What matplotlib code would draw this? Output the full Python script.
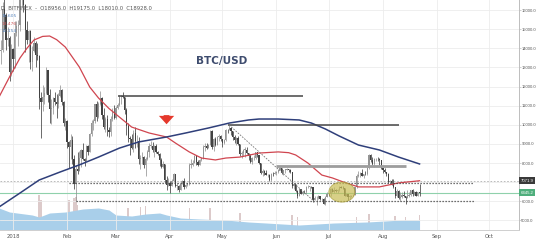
import matplotlib
matplotlib.use("Agg")
import matplotlib.pyplot as plt
import matplotlib.dates as mdates
from matplotlib.patches import Ellipse
from matplotlib.transforms import blended_transform_factory
import numpy as np
import pandas as pd

# ---------------- data (BTC/USD daily, Bitfinex) ----------------
first_day = "2017-12-24"
opens = [
    13950, 13850, 13900, 16050, 15750, 14450, 14550, 12750,
    13950, 13450, 14800, 15150, 15200, 16950, 17100, 16250, 14950, 14450, 14900, 13300, 13850, 14250, 13650, 13600,
    11400, 11200, 11450, 11650, 12850, 11550, 10800, 10900, 11400, 11200, 11100, 11500, 11800, 11200, 10100,
    10200, 9100, 8850, 9200, 8200, 6900, 7700, 7600, 8250, 8700, 8200, 8100, 8900, 8550, 9500, 10100, 10200, 11100,
    10400, 11100, 11400, 10500, 9900, 10300, 9700, 9600, 10300, 10650,
    10350, 10900, 11050, 11450, 11500, 11450, 10750, 9950, 9300, 9250, 8800, 9550, 9150, 9150, 8200, 8250, 8300,
    7900, 8200, 8600, 8900, 8900, 8700, 8900, 8550, 8450, 8150, 7800, 7950, 7100, 6850,
    6950, 6800, 7050, 7450, 6800, 6800, 6600, 6900, 7050, 6750, 6850, 6950, 7900, 7900, 8000, 8350, 8050, 7900,
    8150, 8250, 8850, 8900, 8800, 8950, 9650, 8850, 9250, 8950, 9350, 9400,
    9250, 9050, 9200, 9750, 9700, 9850, 9650, 9350, 9200, 9300, 9000, 8450, 8500, 8700, 8700, 8500, 8350, 8050,
    8250, 8250, 8550, 8400, 7980, 7500, 7580, 7460, 7350, 7350, 7100, 7450, 7400,
    7500, 7530, 7640, 7720, 7500, 7640, 7660, 7690, 7620, 7540, 6780, 6880, 6550, 6300, 6640, 6400, 6500, 6460,
    6720, 6750, 6770, 6730, 6080, 6170, 6170, 6250, 6100, 6130, 5880, 6200,
    6390, 6360, 6620, 6510, 6590, 6540, 6600, 6750, 6710, 6670, 6300, 6380, 6230, 6240, 6270, 6350, 6720, 7320,
    7380, 7470, 7340, 7410, 7400, 7720, 8400, 8170, 7930, 8190, 8230, 8210, 8180,
    7730, 7610, 7540, 7420, 7010, 7040, 6940, 6720, 6280, 6540, 6150, 6240, 6320, 6260, 6190, 6270, 6320, 6580,
    6400, 6500, 6260, 6480,
]
highs = [
    14100, 14450, 16400, 16800, 15850, 15100, 14650, 14200,
    14000, 15400, 15450, 15500, 17150, 17250, 17150, 16300, 15450, 14950, 14950, 14100, 14600, 14400, 14300, 13650,
    11700, 12100, 12000, 13000, 12850, 11850, 11350, 11450, 11700, 11600, 11650, 12100, 11850, 11250, 10350,
    10250, 9150, 9500, 9400, 8400, 7900, 8550, 8650, 8750, 9050, 8250, 8950, 8950, 9550, 10250, 10300, 11100,
    11250, 11200, 11750, 11450, 10900, 10400, 10500, 9900, 10450, 10850, 11050,
    11000, 11150, 11550, 11550, 11700, 11450, 10900, 10100, 9400, 9500, 9750, 9900, 9450, 9350, 8400, 8600, 8350,
    8300, 8700, 9050, 9150, 9100, 8950, 9000, 8650, 8500, 8250, 8100, 7950, 7300, 7200,
    7050, 7150, 7500, 7450, 6950, 6850, 7050, 7100, 7200, 6900, 6950, 8000, 8200, 8150, 8400, 8400, 8150, 8200,
    8300, 8950, 9050, 9050, 9000, 9750, 9750, 9300, 9350, 9400, 9500, 9450,
    9250, 9250, 9800, 9800, 9990, 9900, 9650, 9450, 9350, 9400, 9000, 8650, 8750, 8850, 8850, 8500, 8450, 8300,
    8400, 8600, 8550, 8400, 8000, 7700, 7650, 7650, 7400, 7450, 7500, 7550, 7600,
    7600, 7700, 7780, 7750, 7650, 7700, 7750, 7700, 7690, 7540, 6950, 6900, 6600, 6700, 6650, 6550, 6580, 6800,
    6830, 6820, 6800, 6740, 6250, 6250, 6350, 6290, 6180, 6170, 6280, 6480,
    6420, 6680, 6690, 6750, 6660, 6640, 6800, 6780, 6800, 6680, 6400, 6390, 6330, 6310, 6400, 6740, 7450, 7580,
    7540, 7680, 7450, 7560, 7780, 8480, 8470, 8300, 8270, 8240, 8290, 8270, 8180,
    7760, 7720, 7540, 7480, 7090, 7150, 7150, 6730, 6620, 6580, 6480, 6470, 6530, 6270, 6600, 6480, 6600, 6620,
    6540, 6540, 6500, 6900,
]
lows = [
    12450, 13200, 13800, 14950, 13900, 14100, 12300, 12550,
    12800, 12950, 14650, 14100, 14900, 16200, 15900, 13800, 14200, 13300, 12900, 12800, 13800, 13000, 13400, 10800,
    9300, 10700, 11100, 11600, 11200, 10100, 10050, 10550, 11050, 10350, 10900, 11450, 11050, 9950, 9750,
    8800, 7750, 8200, 7950, 6650, 6000, 7450, 7600, 7800, 8150, 7850, 8100, 8400, 8550, 9400, 9750, 10100,
    10200, 10350, 11050, 10300, 9800, 9600, 9400, 9350, 9400, 10200, 10300,
    10300, 10800, 11000, 11100, 11400, 10550, 9450, 9100, 8400, 8750, 8550, 8800, 8850, 7950, 7700, 7950, 7750,
    7300, 8150, 8300, 8800, 8550, 8300, 8500, 8400, 7850, 7750, 7750, 6950, 6600, 6800,
    6450, 6800, 7000, 6750, 6600, 6500, 6600, 6900, 6650, 6700, 6800, 6850, 7750, 7850, 8000, 7900, 7850, 7900,
    8100, 8200, 8650, 8750, 8800, 8950, 8750, 8650, 8900, 8950, 9150, 9150,
    8850, 9000, 9150, 9550, 9700, 9450, 9200, 9050, 8950, 8950, 8350, 8250, 8350, 8300, 8450, 8150, 8000, 7950,
    8150, 8200, 8300, 7950, 7450, 7300, 7350, 7350, 7250, 7050, 7050, 7300, 7400,
    7360, 7460, 7620, 7450, 7370, 7500, 7650, 7550, 7500, 6700, 6650, 6500, 6150, 6280, 6380, 6350, 6450, 6400,
    6700, 6550, 6700, 5950, 6050, 5780, 6100, 6050, 6020, 5860, 5800, 6200,
    6300, 6300, 6480, 6450, 6460, 6450, 6550, 6690, 6640, 6280, 6300, 6080, 6130, 6210, 6260, 6340, 6680, 7260,
    7290, 7300, 7240, 7390, 7390, 7700, 8060, 7880, 7800, 8080, 8120, 7880, 7680,
    7460, 7490, 7300, 6960, 6880, 6850, 6690, 6150, 6200, 6100, 6030, 6180, 6200, 5880, 6180, 6230, 6300, 6300,
    6310, 6260, 6250, 6300,
]
closes = [
    13850, 13900, 16050, 15750, 14450, 14550, 12750, 13950,
    13450, 14800, 15150, 15200, 16950, 17100, 16250, 14950, 14450, 14900, 13300, 13850, 14250, 13650, 13600, 11400,
    11200, 11450, 11650, 12850, 11550, 10800, 10900, 11400, 11200, 11100, 11500, 11800, 11200, 10100, 10200,
    9100, 8850, 9200, 8200, 6900, 7700, 7600, 8250, 8700, 8200, 8100, 8900, 8550, 9500, 10100, 10200, 11100,
    10400, 11100, 11400, 10500, 9900, 10300, 9700, 9600, 10300, 10650, 10350,
    10900, 11050, 11450, 11500, 11450, 10750, 9950, 9300, 9250, 8800, 9550, 9150, 9150, 8200, 8250, 8300, 7900,
    8200, 8600, 8900, 8900, 8700, 8900, 8550, 8450, 8150, 7800, 7950, 7100, 6850, 6950,
    6800, 7050, 7450, 6800, 6800, 6600, 6900, 7050, 6750, 6850, 6950, 7900, 7900, 8000, 8350, 8050, 7900, 8150,
    8250, 8850, 8900, 8800, 8950, 9650, 8850, 9250, 8950, 9350, 9400, 9250,
    9050, 9200, 9750, 9700, 9850, 9650, 9350, 9200, 9300, 9000, 8450, 8500, 8700, 8700, 8500, 8350, 8050, 8250,
    8250, 8550, 8400, 7980, 7500, 7580, 7460, 7350, 7350, 7100, 7450, 7400, 7500,
    7530, 7640, 7720, 7500, 7640, 7660, 7690, 7620, 7540, 6780, 6880, 6550, 6300, 6640, 6400, 6500, 6460, 6720,
    6750, 6770, 6730, 6080, 6170, 6170, 6250, 6100, 6130, 5880, 6200, 6390,
    6360, 6620, 6510, 6590, 6540, 6600, 6750, 6710, 6670, 6300, 6380, 6230, 6240, 6270, 6350, 6720, 7320, 7380,
    7470, 7340, 7410, 7400, 7720, 8400, 8170, 7930, 8190, 8230, 8210, 8180, 7730,
    7610, 7540, 7420, 7010, 7040, 6940, 6720, 6280, 6540, 6150, 6240, 6320, 6260, 6190, 6270, 6320, 6580, 6400,
    6500, 6260, 6480, 6445,
]

# moving averages
ma50_dates = ["2017-12-24", "2017-12-30", "2018-01-05", "2018-01-09", "2018-01-13", "2018-01-18", "2018-01-22",
              "2018-01-26", "2018-01-31", "2018-02-08", "2018-02-14", "2018-02-19", "2018-02-25", "2018-03-03",
              "2018-03-10", "2018-03-20", "2018-03-30", "2018-04-04", "2018-04-12", "2018-04-19", "2018-04-27",
              "2018-05-03", "2018-05-11", "2018-05-22", "2018-06-02", "2018-06-08", "2018-06-12", "2018-06-19",
              "2018-06-27", "2018-07-03", "2018-07-11", "2018-07-18", "2018-07-30", "2018-08-10", "2018-08-22"]
ma50_values = [11450, 12500, 13490, 14000, 14430, 14620, 14640, 14450, 14060, 13020, 11970, 11400, 10850, 10400,
               9880, 9570, 9360, 9050, 8580, 8260, 8160, 8260, 8310, 8520, 8580, 8540, 8420, 8000, 7370, 7220,
               6950, 6750, 6750, 6960, 7072]
ma200_dates = ["2017-12-24", "2018-01-05", "2018-01-16", "2018-01-28", "2018-02-08", "2018-02-19", "2018-03-03",
               "2018-03-14", "2018-03-30", "2018-04-10", "2018-04-23", "2018-05-05", "2018-05-16", "2018-05-22",
               "2018-06-02", "2018-06-14", "2018-06-21", "2018-06-29", "2018-07-07", "2018-07-18", "2018-07-30",
               "2018-08-10", "2018-08-22"]
ma200_values = [5700, 6430, 7110, 7530, 7900, 8310, 8780, 9100, 9360, 9570, 9830, 10090, 10250, 10300, 10300,
                10250, 10090, 9780, 9410, 8940, 8680, 8310, 7950]

# volume moving average (area) and volume spikes
volma_dates = ["2017-12-24", "2017-12-30", "2018-01-12", "2018-01-16", "2018-01-22", "2018-01-31", "2018-02-10",
               "2018-02-19", "2018-02-25", "2018-03-01", "2018-03-10", "2018-03-18", "2018-03-26", "2018-03-30",
               "2018-04-07", "2018-04-18", "2018-05-03", "2018-05-16", "2018-05-26", "2018-06-14", "2018-07-04",
               "2018-07-23", "2018-08-12", "2018-08-22"]
volma_values = [88, 72, 60, 52, 68, 72, 84, 88, 80, 60, 56, 64, 68, 60, 48, 44, 40, 32, 28, 20, 28, 32, 40, 40]
volspike_dates = ["2018-01-16", "2018-01-17", "2018-02-02", "2018-02-05", "2018-02-06", "2018-02-07",
                  "2018-03-08", "2018-03-15", "2018-03-18", "2018-04-12", "2018-04-24", "2018-05-11",
                  "2018-06-10", "2018-06-13", "2018-07-17", "2018-07-24", "2018-08-08", "2018-08-14", "2018-08-22"]
volspike_values = [140, 120, 120, 128, 132, 100, 88, 92, 96, 88, 88, 68, 60, 52, 52, 64, 56, 52, 60]

# drawings
level_values = [11500, 10010, 7820]
level_starts = ["2018-03-02", "2018-05-04", "2018-06-01"]
level_ends = ["2018-06-16", "2018-08-10", "2018-08-14"]
dotted_values = [6950, 6000]
dotted_starts = ["2018-02-02", "2018-02-06"]
dotted_ends = ["2018-09-22", "2018-09-22"]
trend_dates = ["2018-05-04 20:00", "2018-06-23"]
trend_values = [9990, 5960]
arrow_date = "2018-03-30"
arrow_from, arrow_to = 10650, 9880
circle_date = "2018-07-08 12:00"
circle_price = 6480
last_price = 6445.2
ma_price = 7071.9

month_ticks = ["2018-01-01", "2018-02-01", "2018-03-01", "2018-04-01", "2018-05-01", "2018-06-01",
               "2018-07-01", "2018-08-01", "2018-09-01", "2018-10-01"]
month_labels = ["2018", "Feb", "Mar", "Apr", "May", "Jun", "Jul", "Aug", "Sep", "Oct"]
price_ticks = [5000, 6000, 8000, 9000, 10000, 11000, 12000, 13000, 14000, 15000, 16000]

NARROW = ["Liberation Sans Narrow", "Liberation Sans", "DejaVu Sans"]


def dn(s):
    return mdates.date2num(pd.to_datetime(s))


n = min(len(opens), len(highs), len(lows), len(closes))
o = np.array(opens[:n], float)
h = np.array(highs[:n], float)
l = np.array(lows[:n], float)
c = np.array(closes[:n], float)
dates = mdates.date2num(pd.date_range(first_day, periods=n, freq="D").to_pydatetime())

# ---------------- figure ----------------
fig = plt.figure(figsize=(5.36, 2.41), dpi=100)
ax = fig.add_axes([0, 11 / 241, 519 / 536, 230 / 241])
axv = ax.twinx()
ax.set_zorder(axv.get_zorder() + 1)
ax.patch.set_visible(False)

jan1 = dn("2018-01-01")
ax.set_xlim(jan1 - 7.45, jan1 + 290)
ax.set_ylim(4497, 16523)

# grid
for p in range(5000, 17000, 1000):
    ax.axhline(p, color="#ececec", lw=0.6, zorder=0)
for m in month_ticks:
    ax.axvline(dn(m), color="#ececec", lw=0.6, zorder=0)

# volume
axv.set_ylim(0, 920)
axv.fill_between([dn(d) for d in volma_dates], 0, volma_values, color="#a9cfea", lw=0, zorder=1)
axv.bar([dn(d) for d in volspike_dates], volspike_values, width=0.8, color="#dccaca", lw=0, zorder=0)
axv.set_yticks([])
for s in axv.spines.values():
    s.set_visible(False)

# candles
up = c >= o
body_col = np.where(up, "#949494", "#424242")
ax.vlines(dates, l, h, colors=body_col, lw=0.55, zorder=3)
ax.bar(dates, np.maximum(np.abs(c - o), 25), bottom=np.minimum(o, c), width=0.7,
       color=body_col, lw=0, zorder=4)

# moving averages
ax.plot([dn(d) for d in ma50_dates], ma50_values, color="#d0454f", lw=0.9, zorder=5)
ax.plot([dn(d) for d in ma200_dates], ma200_values, color="#2f3f7a", lw=1.1, zorder=5)

# drawings
for v, s, e in zip(level_values, level_starts, level_ends):
    lw = 2.0 if v < 9000 else 1.1
    col = "#9d9d9d" if v < 9000 else "#454545"
    ax.hlines(v, dn(s), dn(e), colors=col, lw=lw, zorder=6)
for v, s, e in zip(dotted_values, dotted_starts, dotted_ends):
    ax.hlines(v, dn(s), dn(e), colors="#444444", lw=0.9, linestyles=(0, (1, 1.4)), zorder=6)
ax.axhline(ma_price, color="#b0b0b0", lw=0.6, ls=(0, (2, 2)), zorder=2)
ax.axhline(last_price, color="#8fd1ab", lw=0.8, zorder=2)
ax.plot([dn(d) for d in trend_dates], trend_values, color="#777777", lw=0.6, ls=(0, (2, 1.5)), zorder=6)
ax.annotate("", xy=(dn(arrow_date), arrow_to), xytext=(dn(arrow_date), arrow_from),
            arrowprops=dict(arrowstyle="simple,head_length=0.55,head_width=1.0,tail_width=0.38",
                            color="#e5392c", lw=0, mutation_scale=11), zorder=7)
ax.add_patch(Ellipse((dn(circle_date), circle_price), 15, 1050, facecolor="#c8bd55", alpha=0.7,
                     edgecolor="#a59a35", lw=0.6, zorder=7))

ax.text(222 / 519, 1 - 61 / 230, "BTC/USD", transform=ax.transAxes, ha="center", va="center",
        fontsize=7.5, fontweight="bold", color="#3e4c6e")

# axes styling
ax.spines["top"].set_visible(False)
ax.spines["left"].set_visible(False)
ax.spines["right"].set_color("#bdbdbd")
ax.spines["bottom"].set_color("#cfcfcf")
ax.spines["right"].set_linewidth(0.7)
ax.spines["bottom"].set_linewidth(0.7)
ax.yaxis.tick_right()
ax.set_yticks(price_ticks)
ax.set_yticklabels([f"{p:.1f}" for p in price_ticks], family=NARROW)
ax.tick_params(axis="y", length=1.2, width=0.5, color="#bdbdbd", labelsize=3.0, labelcolor="#555555", pad=0.5)
ax.set_xticks([dn(m) for m in month_ticks])
ax.set_xticklabels(month_labels)
ax.tick_params(axis="x", length=0, labelsize=3.8, labelcolor="#555555", pad=3)

bt = blended_transform_factory(ax.transAxes, ax.transData)
ax.text(1.003, ma_price, f"{ma_price:.1f}", transform=bt, fontsize=3.1, color="white", va="center", ha="left",
        family=NARROW, bbox=dict(boxstyle="square,pad=0.3", fc="#3a3a3a", ec="none"), zorder=10)
ax.text(1.003, last_price, f"{last_price:.1f}", transform=bt, fontsize=3.1, color="white", va="center",
        ha="left", family=NARROW, bbox=dict(boxstyle="square,pad=0.3", fc="#4fae7c", ec="none"), zorder=10)

# header
fig.text(0.002, 1 - 9 / 241, "D  BITFINEX  -  O18956.0  H19175.0  L18010.0  C18928.0",
         fontsize=3.8, color="#555555", va="center", ha="left")
fig.text(2 / 536, 1 - 16 / 241, "15.605", fontsize=3.2, color="#5a86bd", va="center")
fig.text(2 / 536, 1 - 24 / 241, "13.476", fontsize=3.2, color="#d05a5a", va="center")
fig.text(2 / 536, 1 - 31 / 241, "12.154", fontsize=3.2, color="#5a86bd", va="center")

fig.savefig("out.png", dpi=100, facecolor="white")
